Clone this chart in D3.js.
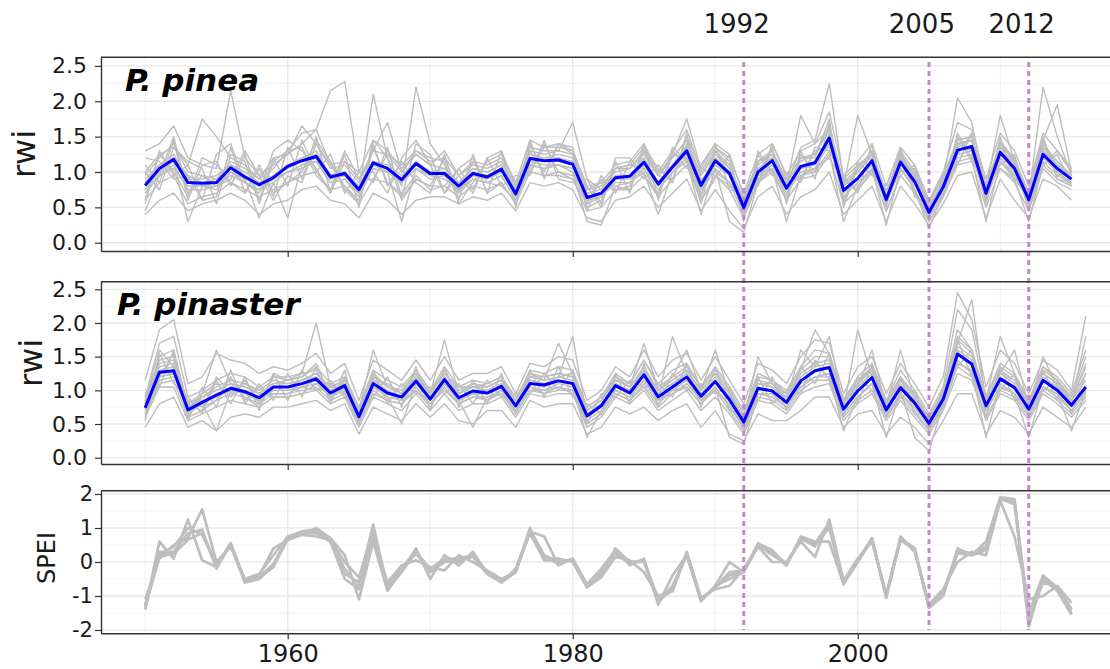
<!DOCTYPE html>
<html><head><meta charset="utf-8">
<script src="https://cdn.jsdelivr.net/npm/d3@7"></script>
<style>body{margin:0;background:#fff}svg{display:block}</style>
</head><body><svg id="c" width="1110" height="669"></svg>
<script>
// ---------------- DATA ----------------
const firstYear = 1950;
const xTickYears = [1960, 1980, 2000];
const xGridMajor = [1960, 1980, 2000];
const xGridMinor = [1950, 1970, 1990, 2010];
const droughtYears = [1992, 2005, 2012];
const rwiTicks = [0, 0.5, 1, 1.5, 2, 2.5];
const rwiMinor = [0.25, 0.75, 1.25, 1.75, 2.25];
const speiTicks = [-2, -1, 0, 1, 2];
const speiMinor = [-1.5, -0.5, 0.5, 1.5];

const pineaMean = [
 0.81,1.05,1.18,0.85,0.84,0.85,1.06,0.93,0.82,0.92,
 1.08,1.16,1.22,0.93,0.98,0.75,1.13,1.05,0.89,1.12,
 0.98,0.98,0.80,0.98,0.93,1.04,0.69,1.19,1.16,1.17,
 1.11,0.64,0.70,0.92,0.94,1.14,0.83,1.07,1.30,0.81,
 1.16,0.98,0.50,1.00,1.16,0.77,1.08,1.13,1.48,0.74,
 0.91,1.16,0.61,1.14,0.86,0.43,0.79,1.31,1.36,0.70,
 1.28,1.05,0.61,1.25,1.05,0.90];

const pinasterMean = [
 0.74,1.27,1.29,0.71,0.82,0.93,1.03,0.98,0.89,1.05,
 1.05,1.10,1.17,0.96,1.07,0.61,1.10,0.96,0.90,1.14,
 0.87,1.16,0.89,0.99,0.96,1.06,0.77,1.10,1.08,1.14,
 1.10,0.62,0.77,1.07,0.96,1.23,0.90,1.05,1.20,0.91,
 1.13,0.86,0.53,1.03,0.99,0.82,1.14,1.29,1.34,0.72,
 0.99,1.19,0.71,1.04,0.81,0.51,0.87,1.54,1.39,0.77,
 1.17,1.04,0.72,1.15,1.00,0.78,1.05];

const pineaTrees = [
 [1.30,1.40,1.65,1.20,1.10,1.05,2.15,1.20,0.95,1.10, 1.25,1.40,1.60,1.10,1.15,0.90,1.30,1.25,1.00,1.30, 1.15,1.20,0.95,1.15,1.10,1.20,0.85,1.45,1.35,1.40, 1.30,0.80,0.85,1.10,1.15,1.40,1.00,1.30,1.60,1.00, 1.35,1.20,0.70,1.25,1.40,0.95,1.30,1.40,1.85,0.95, 1.15,1.40,0.80,1.35,1.10,0.60,1.00,1.70,1.60,0.90, 1.55,1.30,0.80,1.55,1.30,1.05],
 [0.40,0.60,0.70,0.45,0.55,0.60,0.70,0.60,0.40,0.55, 0.60,0.75,0.80,0.60,0.55,0.35,0.70,0.60,0.40,0.60, 0.65,0.65,0.55,0.65,0.60,0.70,0.45,0.85,0.80,0.85, 0.75,0.35,0.30,0.60,0.65,0.80,0.50,0.70,0.90,0.45, 0.75,0.45,0.20,0.65,0.80,0.40,0.65,0.75,1.00,0.40, 0.60,0.80,0.30,0.80,0.55,0.25,0.55,0.95,1.00,0.35, 0.90,0.60,0.35,0.90,0.80,0.60],
 [0.95,1.20,1.40,1.00,0.95,0.90,1.15,1.05,0.90,1.05, 1.30,1.55,1.60,2.15,2.28,1.00,1.45,1.30,1.05,1.25, 1.10,1.05,0.85,1.05,1.00,1.10,0.75,1.25,1.20,1.25, 1.20,0.75,0.80,1.00,1.05,1.25,0.95,1.20,1.45,0.95, 1.25,1.05,0.60,1.10,1.25,0.90,1.20,1.25,1.65,0.85, 1.00,1.25,0.70,1.25,0.95,0.50,0.90,1.45,1.50,0.80, 1.40,1.15,0.70,1.40,1.15,0.95],
 [0.70,0.95,1.10,0.75,0.75,0.80,0.95,0.85,0.75,0.85, 1.00,1.10,1.15,0.85,0.90,0.70,2.10,1.20,0.80,2.20, 1.40,1.10,0.75,0.90,0.85,0.95,0.60,1.10,1.05,1.10, 1.00,0.55,0.65,0.85,0.85,1.05,0.75,1.00,1.20,0.70, 1.05,0.85,0.40,0.90,1.05,0.70,1.00,1.05,1.40,0.65, 0.85,1.05,0.55,1.05,0.75,0.35,0.70,1.20,1.25,0.60, 1.15,0.95,0.55,1.15,0.95,0.85],
 [0.85,1.10,1.25,0.90,0.90,0.95,1.10,1.00,0.85,0.95, 1.10,1.20,1.30,0.95,1.00,0.80,1.15,1.10,0.95,1.15, 1.00,1.05,0.85,1.05,1.00,1.10,0.75,1.30,1.25,1.30, 1.70,0.90,0.75,1.05,1.10,1.35,0.95,1.25,1.75,1.05, 1.40,1.25,0.65,1.15,1.30,0.85,1.15,1.25,1.60,0.80, 1.00,1.25,0.70,1.20,0.95,0.50,0.85,1.40,1.45,0.75, 1.35,1.10,0.65,1.30,1.10,0.95],
 [0.60,0.85,0.95,0.55,0.65,0.70,0.85,0.75,0.65,0.75, 0.85,0.95,1.00,0.75,0.80,0.55,0.90,0.85,0.65,0.90, 0.80,0.80,0.65,0.80,0.75,0.85,0.55,1.00,0.95,1.00, 0.90,0.45,0.50,0.75,0.75,0.95,0.65,0.90,1.10,0.60, 0.95,0.75,0.35,0.85,1.00,0.60,0.90,0.95,1.25,0.55, 0.75,1.00,0.45,0.95,0.70,0.30,0.65,1.10,1.15,0.50, 1.05,0.85,0.45,1.05,0.85,0.75],
 [0.90,1.10,1.20,0.95,0.85,0.90,1.05,0.95,0.80,0.95, 1.05,1.15,1.25,0.95,1.00,0.75,1.15,1.05,0.90,1.10, 1.00,1.00,0.80,1.00,0.95,1.05,0.70,1.20,1.15,1.20, 1.10,0.65,0.70,0.95,0.95,1.15,0.85,1.10,1.35,0.85, 1.20,1.00,0.55,1.05,1.20,0.80,1.35,1.45,2.25,0.90, 1.10,1.20,0.65,1.25,0.90,0.45,0.85,2.05,1.70,0.75, 1.45,1.10,0.65,2.20,1.50,0.95],
 [1.00,1.25,1.35,1.10,1.75,1.50,1.20,1.10,0.90,1.20, 1.25,1.65,1.40,1.05,1.10,0.85,1.30,1.70,1.00,1.25, 1.10,1.30,0.95,1.10,1.05,1.15,0.80,1.35,1.30,1.30, 1.25,0.75,0.80,1.05,1.05,1.30,0.95,1.20,1.45,0.95, 1.30,1.10,0.60,1.15,1.30,0.90,1.20,1.25,1.60,0.85, 1.05,1.30,0.70,1.30,1.00,0.55,0.95,1.45,1.50,0.80, 1.40,1.20,0.70,1.45,1.95,1.00],
 [0.75,1.00,1.15,0.30,0.80,0.75,1.00,0.90,0.35,0.85, 0.35,1.10,1.20,0.90,0.95,0.70,1.10,1.00,0.30,1.05, 0.95,0.90,0.75,0.95,0.90,1.00,0.65,1.15,1.10,1.10, 1.05,0.60,0.65,0.90,0.90,1.10,0.80,1.05,1.25,0.75, 1.10,0.95,0.45,0.95,1.10,0.75,1.05,1.10,1.45,0.70, 0.90,1.10,0.60,1.10,0.85,0.40,0.75,1.25,1.30,0.65, 1.25,1.00,0.60,1.20,1.00,0.85],
 [0.80,1.05,1.20,0.85,0.85,0.85,1.05,0.95,0.85,0.95, 1.10,1.20,1.25,0.95,1.00,0.80,1.15,1.05,0.90,1.15, 1.00,1.00,0.85,1.00,0.95,1.05,0.70,1.20,1.20,1.20, 1.15,0.70,0.75,0.95,0.95,1.20,0.85,1.10,1.35,0.85, 1.20,1.00,0.55,1.05,1.20,0.80,1.80,1.40,1.60,0.80, 1.80,1.25,0.65,1.20,0.90,0.45,0.85,1.40,1.45,0.75, 1.80,1.15,0.65,1.35,1.10,0.95],
 [0.70,0.95,1.05,0.80,0.80,0.80,1.00,0.85,0.75,0.90, 1.00,1.05,1.15,0.85,0.90,0.65,1.05,1.00,0.85,1.05, 0.90,0.95,0.70,0.90,0.85,0.95,0.60,1.10,1.05,1.10, 1.00,0.30,0.25,0.80,0.85,1.00,0.40,1.00,1.15,0.40, 1.05,0.30,0.15,0.85,1.05,0.30,0.95,1.00,1.30,0.30, 0.80,1.05,0.25,1.05,0.75,0.20,0.70,1.15,1.20,0.30, 1.15,0.90,0.30,1.10,0.90,0.80],
 [0.85,1.05,1.20,0.85,0.80,0.85,1.10,0.95,0.80,0.90, 1.10,1.15,1.20,0.90,0.95,0.75,1.10,1.05,0.90,1.10, 0.95,1.00,0.80,0.95,0.95,1.05,0.70,1.20,1.15,1.15, 1.10,0.65,0.70,0.90,0.95,1.15,0.85,1.05,1.30,0.80, 1.15,1.00,0.50,1.00,1.15,0.75,1.05,1.15,1.50,0.75, 0.90,1.15,0.60,1.15,0.85,0.45,0.80,1.30,1.35,0.70, 1.25,1.05,0.60,1.25,1.05,0.90],
 [1.10,0.85,1.45,0.60,1.10,1.15,0.80,1.25,0.60,1.20, 0.80,1.45,1.00,1.25,0.70,1.00,0.85,1.35,0.65,1.40, 1.25,0.70,1.05,0.75,1.20,0.80,0.95,0.95,1.45,0.90, 0.85,0.90,0.55,1.15,0.70,1.40,0.60,1.30,1.05,1.10, 1.40,0.75,0.70,0.80,1.35,0.55,1.30,0.90,1.70,0.55, 1.15,0.95,0.80,1.35,0.65,0.55,1.00,1.10,1.55,0.55, 1.50,0.85,0.75,1.45,0.95,1.00],
 [0.55,1.30,0.95,1.10,0.60,0.65,1.35,0.70,1.05,0.65, 1.35,0.90,1.50,0.70,1.25,0.50,1.40,0.80,1.15,0.85, 0.70,1.25,0.60,1.25,0.70,1.30,0.50,1.45,0.90,1.40, 1.35,0.45,0.95,0.70,1.15,0.90,1.10,0.85,1.55,0.60, 0.90,1.25,0.35,1.25,0.95,1.00,0.85,1.35,1.30,0.95, 0.70,1.40,0.45,0.95,1.10,0.30,0.65,1.50,1.15,0.90, 1.10,1.25,0.50,1.10,1.25,0.80],
 [1.00,0.75,1.35,1.15,1.05,0.55,1.25,1.15,0.55,1.15, 1.30,1.35,0.95,0.75,1.30,0.90,0.90,1.25,1.10,1.30, 1.20,1.15,0.55,0.85,1.15,1.25,0.85,1.00,1.35,1.35, 1.30,0.80,0.50,1.20,1.20,0.95,0.70,1.35,1.15,0.65, 1.35,1.15,0.30,1.30,1.00,0.60,1.25,1.00,1.55,0.60, 1.05,1.30,0.50,1.30,0.75,0.35,0.95,1.35,1.45,0.60, 1.45,1.15,0.45,1.35,1.15,0.95],
 [0.60,1.25,1.00,0.65,1.20,1.10,0.85,0.70,1.10,0.70, 0.85,1.00,1.45,1.15,0.75,0.55,1.35,0.85,0.70,0.95, 0.75,0.80,1.05,1.20,0.70,0.85,0.55,1.40,0.95,0.95, 0.90,0.55,0.90,0.75,0.80,1.35,1.05,0.85,1.50,1.05, 0.95,0.80,0.65,0.85,1.40,0.95,0.90,1.30,1.35,0.90, 0.75,1.00,0.75,1.00,1.05,0.55,0.70,1.55,1.20,0.85, 1.05,0.90,0.75,1.50,0.90,0.85],
 [1.20,1.15,0.90,0.95,0.60,1.25,1.40,0.85,0.70,1.30, 1.45,1.30,1.05,0.70,1.15,1.00,1.00,0.70,1.20,1.45, 1.10,0.70,0.95,0.70,1.20,1.30,0.80,1.30,1.00,1.40, 1.25,0.50,0.60,1.05,1.10,1.05,0.65,1.25,1.20,0.55, 1.30,1.05,0.40,0.95,1.05,0.65,1.20,1.20,1.75,0.50, 1.10,1.25,0.55,1.20,0.70,0.40,0.85,1.25,1.55,0.55, 1.35,1.20,0.55,1.10,1.30,1.00],
 [0.45,0.95,1.50,0.70,0.95,0.80,0.90,1.30,0.95,0.60, 0.95,0.85,1.40,1.10,0.80,0.60,1.45,1.20,0.60,0.90, 0.80,1.20,0.70,1.15,0.85,0.80,0.60,1.05,1.40,1.00, 0.95,0.75,0.85,0.80,0.75,1.30,0.95,0.90,1.40,0.90, 1.00,0.85,0.60,1.15,1.25,0.85,0.95,1.05,1.20,0.85, 0.80,1.05,0.70,1.25,0.95,0.50,0.75,1.40,1.30,0.80, 1.20,0.95,0.70,1.30,1.00,0.80]
];

const pinasterTrees = [
 [1.15,1.90,2.05,1.10,1.20,1.55,1.45,1.40,1.25,1.35, 1.30,1.40,1.55,1.25,1.40,0.85,1.45,1.30,1.15,1.45, 1.15,1.50,1.15,1.25,1.25,1.35,0.95,1.40,1.35,1.50, 1.45,0.85,1.00,1.35,1.20,1.60,1.20,1.45,1.55,1.15, 1.50,1.15,0.80,1.40,1.30,1.10,1.50,1.75,1.70,0.95, 1.35,1.50,0.95,1.40,1.10,0.75,1.20,2.45,2.05,1.05, 1.60,1.40,0.95,1.45,1.30,1.00,2.10],
 [0.45,0.80,0.90,0.45,0.55,0.40,0.60,0.65,0.60,0.75, 0.75,0.80,0.85,0.70,0.80,0.35,0.75,0.65,0.55,0.80, 0.60,0.80,0.55,0.50,0.70,0.70,0.45,0.85,0.75,0.80, 0.80,0.35,0.45,0.75,0.65,0.75,0.55,0.70,0.80,0.45, 0.70,0.35,0.25,0.65,0.55,0.55,0.70,0.90,0.90,0.45, 0.65,0.70,0.35,0.60,0.45,0.20,0.55,0.95,0.95,0.35, 0.70,0.60,0.35,0.75,0.60,0.45,0.75],
 [0.80,1.50,1.60,0.75,0.90,1.00,1.10,1.05,0.95,1.10, 1.15,1.25,2.00,1.05,1.15,0.65,1.25,1.05,0.95,1.20, 0.95,1.75,0.95,1.05,1.05,1.15,0.80,1.20,1.15,1.70, 1.25,0.70,0.85,1.15,1.05,1.35,1.00,1.15,1.30,1.00, 1.25,0.95,0.60,1.10,1.05,0.90,1.25,1.40,1.45,0.80, 1.10,1.30,0.80,1.15,0.90,0.55,0.95,1.80,1.60,0.85, 1.30,1.15,0.80,1.25,1.10,0.85,1.40],
 [0.70,1.20,1.25,0.65,0.80,0.90,1.00,0.95,0.85,1.00, 1.00,1.05,1.15,0.90,1.05,0.55,1.05,0.95,0.85,1.10, 0.85,1.10,0.85,0.95,0.95,1.05,0.75,1.10,1.05,1.20, 1.80,0.60,0.75,1.05,0.95,1.30,0.90,1.80,1.25,0.90, 1.15,0.85,0.50,1.00,1.00,0.80,1.15,1.30,1.35,0.70, 1.90,1.20,0.70,1.05,0.80,0.50,0.85,1.55,1.40,0.75, 1.20,1.05,0.70,1.15,1.00,0.75,1.05],
 [0.85,1.35,1.40,0.80,0.90,1.05,1.15,1.10,1.00,1.15, 1.10,1.15,1.25,1.05,1.15,0.70,1.20,1.05,1.00,1.25, 0.95,1.25,1.00,1.10,1.05,1.15,0.85,1.25,1.20,1.25, 1.20,0.70,0.85,1.20,1.05,1.70,1.00,1.20,1.60,1.00, 1.60,0.95,0.60,1.15,1.10,0.95,1.30,1.90,1.55,0.85, 1.10,1.35,0.80,1.20,0.90,0.60,0.95,1.75,1.55,0.85, 1.80,1.25,0.80,1.30,1.15,0.85,1.25],
 [0.60,1.05,1.05,0.55,0.65,0.75,0.85,0.80,0.75,0.90, 0.90,0.95,1.00,0.80,0.90,0.45,0.90,0.80,0.70,0.95, 0.70,0.95,0.70,0.80,0.80,0.90,0.60,0.95,0.90,0.95, 0.95,0.45,0.60,0.90,0.80,1.00,0.70,0.85,1.00,0.70, 0.90,0.65,0.35,0.85,0.80,0.65,0.95,1.05,1.10,0.55, 0.80,0.95,0.55,0.85,0.60,0.35,0.70,1.25,1.15,0.55, 0.95,0.85,0.55,0.95,0.80,0.60,0.85],
 [0.75,1.20,1.25,0.70,0.80,0.40,1.00,0.95,0.85,1.00, 1.00,1.05,1.10,0.90,1.00,0.60,1.05,0.90,0.50,1.10, 0.85,1.10,0.85,0.45,0.90,1.00,0.75,1.05,1.00,1.10, 1.05,0.30,0.70,1.00,0.90,1.15,0.85,1.00,1.15,0.85, 1.05,0.30,0.20,0.95,0.95,0.75,1.10,1.20,1.25,0.40, 0.90,1.10,0.30,1.00,0.30,0.10,0.80,1.40,1.30,0.30, 1.10,0.95,0.30,1.05,0.95,0.40,1.00],
 [0.80,1.45,1.50,0.80,0.95,1.60,1.10,1.05,0.95,1.10, 1.10,1.15,1.25,1.00,1.10,0.70,1.60,1.05,0.95,1.20, 0.90,1.20,0.95,1.05,1.00,1.10,0.80,1.15,1.10,1.20, 1.15,0.65,0.80,1.10,1.00,1.30,0.95,1.10,1.25,0.95, 1.20,0.90,0.55,1.10,1.05,0.85,1.20,1.35,1.80,0.75, 1.05,1.25,0.75,1.10,0.85,0.55,0.90,1.70,2.35,0.80, 1.25,1.10,0.75,1.20,1.05,0.80,1.80],
 [0.75,1.25,1.30,0.70,0.80,0.95,1.00,0.95,0.90,1.05, 1.05,1.10,1.15,0.95,1.05,0.60,1.10,0.95,0.90,1.15, 0.85,1.15,0.90,1.00,0.95,1.05,0.75,1.10,1.10,1.15, 1.10,0.60,0.75,1.05,0.95,1.25,0.90,1.05,1.20,0.90, 1.15,0.85,0.50,1.05,1.00,0.80,1.15,1.30,1.35,0.70, 1.00,1.20,0.70,1.05,0.80,0.50,0.85,1.55,1.40,0.75, 1.15,1.05,0.70,1.15,1.00,0.80,1.05],
 [0.70,1.30,1.35,0.75,0.85,0.90,1.05,1.00,0.90,1.05, 1.05,1.15,1.20,0.95,1.10,0.65,1.15,1.00,0.90,1.15, 0.90,1.20,0.90,1.00,1.00,1.10,0.80,1.15,1.10,1.15, 1.10,0.65,0.80,1.10,1.00,1.25,0.95,1.10,1.25,0.95, 1.15,0.90,0.55,1.50,1.10,0.85,1.60,1.35,1.40,0.75, 1.05,1.60,0.75,1.60,0.85,0.55,0.90,1.60,1.45,0.80, 1.25,1.60,0.75,1.50,1.05,0.85,1.15],
 [0.65,1.10,1.15,0.60,0.70,0.85,0.95,0.90,0.80,0.95, 0.95,1.00,1.05,0.85,0.95,0.50,0.95,0.85,0.80,1.00, 0.80,1.05,0.80,0.90,0.85,0.95,0.65,1.00,0.95,1.00, 1.00,0.50,0.65,0.95,0.85,1.05,0.75,0.95,1.05,0.80, 1.00,0.70,0.40,0.90,0.85,0.70,1.00,1.15,1.15,0.60, 0.85,1.00,0.60,0.90,0.65,0.40,0.75,1.35,1.20,0.60, 1.00,0.90,0.60,1.00,0.85,0.65,0.90],
 [0.90,1.70,1.80,0.90,1.00,1.15,1.25,1.20,1.05,1.20, 1.15,1.20,1.35,1.10,1.20,0.75,1.30,1.15,1.05,1.30, 1.00,1.35,1.05,1.15,1.10,1.20,0.85,1.30,1.25,1.35, 1.30,0.75,0.90,1.25,1.10,1.45,1.10,1.30,1.40,1.05, 1.35,1.05,0.70,1.25,1.15,1.00,1.35,1.60,1.55,0.85, 1.20,1.40,0.85,1.30,1.00,0.65,1.05,2.20,1.90,0.90, 1.40,1.25,0.85,1.35,1.20,0.95,1.60],
 [0.95,1.05,1.60,0.55,1.05,0.75,1.30,0.80,1.10,0.85, 1.25,0.90,1.35,0.80,1.30,0.50,1.30,0.80,1.10,0.95, 1.05,0.95,1.10,0.80,1.15,0.90,0.95,0.95,1.25,1.00, 1.30,0.50,0.95,0.90,1.15,1.05,1.10,0.90,1.40,0.75, 1.35,0.70,0.65,0.85,1.20,0.70,1.35,1.10,1.55,0.60, 1.20,1.00,0.85,0.90,1.00,0.40,1.05,1.35,1.60,0.60, 1.35,0.85,0.90,1.00,1.15,0.65,1.25],
 [0.55,1.55,1.10,0.90,0.65,1.15,0.80,1.20,0.70,1.25, 0.85,1.30,1.00,1.15,0.90,0.75,0.90,1.20,0.75,1.35, 0.70,1.35,0.75,1.15,0.80,1.25,0.65,1.30,0.90,1.35, 0.90,0.80,0.65,1.25,0.80,1.40,0.75,1.25,1.00,1.10, 0.95,1.05,0.40,1.20,0.80,1.00,0.95,1.45,1.15,0.90, 0.80,1.40,0.60,1.20,0.65,0.65,0.75,1.75,1.20,0.95, 1.00,1.25,0.60,1.30,0.85,0.95,0.90],
 [0.90,1.40,1.45,0.60,0.95,1.10,0.90,1.15,0.80,1.20, 1.20,1.25,1.30,0.85,1.20,0.70,1.25,1.05,1.00,1.25, 0.95,1.30,0.95,1.10,1.05,1.15,0.85,1.20,1.20,1.25, 1.20,0.70,0.85,1.15,1.05,1.30,1.00,1.15,1.30,1.00, 1.25,0.95,0.55,1.10,1.10,0.90,1.25,1.40,1.45,0.80, 1.10,1.30,0.80,1.15,0.90,0.55,0.95,1.65,1.50,0.85, 1.25,1.15,0.80,1.25,1.10,0.85,1.35],
 [0.60,1.15,1.20,0.85,0.75,0.85,1.20,0.85,1.05,0.90, 0.90,0.95,1.10,1.10,0.95,0.55,1.00,0.85,0.80,1.05, 0.80,1.00,0.80,0.90,0.90,0.95,0.70,1.00,1.00,1.05, 1.00,0.55,0.70,1.00,0.90,1.15,0.85,0.95,1.10,0.85, 1.00,0.80,0.45,0.95,0.90,0.75,1.05,1.20,1.25,0.65, 0.90,1.10,0.65,0.95,0.75,0.45,0.80,1.40,1.30,0.70, 1.05,0.95,0.65,1.05,0.95,0.70,1.00],
 [0.85,1.60,1.35,0.65,0.90,1.00,1.10,0.90,0.75,1.25, 1.15,1.20,1.40,0.90,1.15,0.65,1.15,1.10,0.95,1.30, 1.00,1.25,1.05,1.05,1.10,1.20,0.90,1.25,1.15,1.20, 1.25,0.75,0.90,1.20,1.10,1.45,1.05,1.20,1.35,1.05, 1.30,1.00,0.65,1.20,1.15,0.95,1.30,1.50,1.50,0.85, 1.15,1.35,0.85,1.20,0.95,0.60,1.00,1.90,1.60,0.90, 1.35,1.20,0.85,1.35,1.15,0.90,1.50],
 [0.65,1.20,1.55,0.80,0.70,1.20,0.95,1.10,0.95,0.95, 0.95,1.05,1.00,1.05,1.00,0.50,1.25,0.90,0.85,1.00, 0.75,1.10,0.85,0.95,0.85,1.00,0.70,1.05,0.95,1.05, 0.95,0.50,0.65,0.95,0.85,1.10,0.80,1.00,1.05,0.80, 1.05,0.75,0.45,0.95,0.90,0.75,1.05,1.20,1.20,0.65, 0.90,1.10,0.60,0.95,0.70,0.40,0.80,1.45,1.25,0.70, 1.05,0.95,0.65,1.05,0.90,0.70,0.95]
];

const speiSeries = [
 [-1.30,0.20,0.45,1.00,0.80,-0.10,0.55,-0.55,-0.45,-0.05, 0.70,0.85,0.90,0.65,-0.35,-0.60,1.10,-0.75,-0.15,0.30, -0.20,0.10,0.10,0.20,-0.30,-0.55,-0.25,0.95,0.20,0.00, 0.05,-0.70,-0.35,0.30,0.00,0.00,-1.15,-0.80,0.25,-1.10, -0.75,-0.40,-0.25,0.50,0.20,-0.05,0.70,0.45,1.10,-0.60, 0.05,0.65,-1.00,0.70,0.35,-1.30,-0.90,0.30,0.25,0.40, 1.85,1.70,-1.70,-0.60,-0.75,-1.40],
 [-1.40,0.60,0.10,1.25,0.05,-0.15,0.50,-0.60,-0.40,0.40, 0.65,0.80,1.00,0.70,0.20,-1.10,0.60,-0.85,-0.25,0.40, -0.50,0.20,-0.10,0.30,-0.35,-0.60,-0.20,0.90,0.75,-0.10, 0.10,-0.65,-0.20,0.35,-0.10,0.10,-1.25,-0.40,0.20,-1.15, -0.70,0.00,-0.30,0.55,0.35,-0.10,0.75,0.60,0.60,-0.65, 0.00,0.70,-1.05,0.70,0.40,-1.35,-1.00,0.40,0.20,0.60, 1.90,1.85,-1.90,-0.45,-0.80,-1.50],
 [-1.10,0.10,0.50,0.70,1.55,0.00,0.45,-0.50,-0.35,0.20, 0.75,0.90,0.95,0.60,-0.50,-0.80,0.75,-0.60,-0.10,0.05, -0.15,-0.25,0.20,0.00,-0.25,-0.50,-0.30,1.00,0.10,0.10, 0.00,-0.75,-0.45,0.15,0.05,-0.30,-1.00,-0.85,0.30,-1.05, -0.80,-0.70,-0.20,0.45,0.00,0.00,0.60,0.15,1.25,-0.55, 0.10,0.60,-0.95,0.75,0.30,-1.25,-0.80,0.00,0.30,0.20, 1.80,0.75,-1.10,-1.00,-0.70,-1.20],
 [-1.25,0.30,0.30,0.85,0.95,-0.20,0.55,-0.55,-0.45,-0.15, 0.70,0.80,0.75,0.65,0.00,-0.45,0.90,-0.70,-0.20,0.25, -0.25,0.05,0.00,0.25,-0.30,-0.55,-0.25,0.85,0.05,0.05, 0.05,-0.70,-0.40,0.40,0.00,0.05,-1.20,-0.70,0.20,-1.10, -0.75,-0.30,-0.25,0.50,0.25,-0.10,0.70,0.50,1.00,-0.65, 0.05,0.70,-1.00,0.65,0.35,-1.30,-0.95,0.35,0.25,0.45, 1.90,1.75,-1.50,-0.40,-0.75,-1.40],
 [-1.35,0.15,0.25,0.65,0.85,-0.05,0.50,-0.60,-0.50,-0.10, 0.65,0.85,0.85,0.60,-0.20,-0.75,1.00,-0.80,-0.30,0.30, -0.30,0.00,0.05,0.15,-0.35,-0.60,-0.30,0.90,0.15,-0.05, 0.10,-0.70,-0.30,0.25,-0.05,0.05,-1.10,-0.85,0.25,-1.15, -0.70,-0.50,-0.30,0.45,0.30,-0.05,0.65,0.55,1.15,-0.60, 0.00,0.65,-1.05,0.70,0.35,-1.35,-0.85,0.25,0.20,0.35, 1.85,1.80,-1.80,-0.50,-0.85,-1.55]
];

// ---------------- DRAWING ----------------
const FONT = "'DejaVu Sans', Verdana, sans-serif";
const svg = d3.select("#c");
const x = d3.scaleLinear().domain([1946.9, 2017.7]).range([101, 1110]);
const x0 = x.range()[0], x1 = x.range()[1];

const panels = [
  {top: 57.3, bottom: 251, dom: [-0.117, 2.622], ticks: rwiTicks, minor: rwiMinor,
   fmt: d3.format(".1f"), pad: 8, fs: 22, trees: pineaTrees, mean: pineaMean, tw: 1.4,
   ylab: "rwi", ylabX: 35, ylabY: 154, ylabFs: 32,
   sp: "P. pinea", spX: 125, spY: 91},
  {top: 281.7, bottom: 464, dom: [-0.094, 2.613], ticks: rwiTicks, minor: rwiMinor,
   fmt: d3.format(".1f"), pad: 8, fs: 22, trees: pinasterTrees, mean: pinasterMean, tw: 1.4,
   ylab: "rwi", ylabX: 42, ylabY: 363, ylabFs: 32,
   sp: "P. pinaster", spX: 117, spY: 315},
  {top: 490.7, bottom: 633.3, dom: [-2.097, 2.097], ticks: speiTicks, minor: speiMinor,
   fmt: d => String(d), pad: 2, fs: 21, trees: speiSeries, mean: null, tw: 2.7,
   ylab: "SPEI", ylabX: 55, ylabY: 558, ylabFs: 24, sp: null, xlabels: true}
];

const gridLayer = svg.append("g");
const greyLayer = svg.append("g");
const dashLayer = svg.append("g");
const topLayer = svg.append("g");

panels.forEach(p => {
  p.y = d3.scaleLinear().domain(p.dom).range([p.bottom, p.top]);
  const y = p.y;
  const g = gridLayer.append("g");
  g.selectAll(".hmin").data(p.minor).join("line")
    .attr("x1", x0).attr("x2", x1).attr("y1", d => y(d)).attr("y2", d => y(d))
    .attr("stroke", "#f2f2f2").attr("stroke-width", 1);
  g.selectAll(".vmin").data(xGridMinor).join("line")
    .attr("x1", d => x(d)).attr("x2", d => x(d)).attr("y1", p.top).attr("y2", p.bottom)
    .attr("stroke", "#f0f0f0").attr("stroke-width", 1);
  g.selectAll(".hmaj").data(p.ticks).join("line")
    .attr("x1", x0).attr("x2", x1).attr("y1", d => y(d)).attr("y2", d => y(d))
    .attr("stroke", "#e8e8e8").attr("stroke-width", 1.3);
  g.selectAll(".vmaj").data(xGridMajor).join("line")
    .attr("x1", d => x(d)).attr("x2", d => x(d)).attr("y1", p.top).attr("y2", p.bottom)
    .attr("stroke", "#e8e8e8").attr("stroke-width", 1.3);

  const line = d3.line().x((d, i) => x(firstYear + i)).y(d => y(d));
  greyLayer.append("g").selectAll("path").data(p.trees).join("path")
    .attr("d", line).attr("fill", "none").attr("stroke", "#bebebe")
    .attr("stroke-width", p.tw).attr("stroke-linejoin", "round");

  const t = topLayer.append("g");
  if (p.mean) {
    t.append("path").datum(p.mean).attr("d", line).attr("fill", "none")
      .attr("stroke", "#0000ff").attr("stroke-width", 3).attr("stroke-linejoin", "round");
  }
  t.append("line").attr("x1", x0).attr("x2", x1).attr("y1", p.top).attr("y2", p.top)
    .attr("stroke", "#333").attr("stroke-width", 1.4);
  const ya = t.append("g").attr("transform", `translate(${x0},0)`)
    .call(d3.axisLeft(y).tickValues(p.ticks).tickFormat(p.fmt).tickSize(6).tickSizeOuter(0).tickPadding(p.pad));
  ya.select(".domain").attr("stroke", "#333").attr("stroke-width", 1.4);
  ya.selectAll(".tick line").attr("stroke", "#333").attr("stroke-width", 1.2);
  ya.selectAll("text").attr("font-family", FONT).attr("font-size", p.fs).attr("fill", "#1a1a1a");
  const xa = t.append("g").attr("transform", `translate(0,${p.bottom})`)
    .call(d3.axisBottom(x).tickValues(xTickYears).tickFormat(p.xlabels ? d3.format("d") : "")
      .tickSize(6).tickSizeOuter(0).tickPadding(6));
  xa.select(".domain").attr("stroke", "#333").attr("stroke-width", 1.4);
  xa.selectAll(".tick line").attr("stroke", "#333").attr("stroke-width", 1.2);
  xa.selectAll("text").attr("font-family", FONT).attr("font-size", 24).attr("fill", "#1a1a1a");
  t.append("text").attr("transform", `translate(${p.ylabX},${p.ylabY}) rotate(-90)`)
    .attr("text-anchor", "middle").attr("font-family", FONT).attr("font-size", p.ylabFs)
    .attr("fill", "#1a1a1a").text(p.ylab);
  if (p.sp) {
    t.append("text").attr("x", p.spX).attr("y", p.spY).attr("font-family", FONT)
      .attr("font-size", 31).attr("font-weight", "bold").attr("font-style", "italic")
      .attr("fill", "#000").text(p.sp);
  }
});

// drought markers (above grey lines, below mean line)
dashLayer.selectAll("line").data(droughtYears).join("line")
  .attr("x1", d => x(d)).attr("x2", d => x(d)).attr("y1", 62).attr("y2", 630)
  .attr("stroke", "#c884d2").attr("stroke-width", 3).attr("stroke-dasharray", "5,4");
topLayer.selectAll(".dlab").data(droughtYears).join("text").attr("class", "dlab")
  .attr("x", d => x(d - 0.5)).attr("y", 33).attr("text-anchor", "middle")
  .attr("font-family", FONT).attr("font-size", 26).attr("fill", "#1a1a1a").text(d => d);
</script>
</body></html>
